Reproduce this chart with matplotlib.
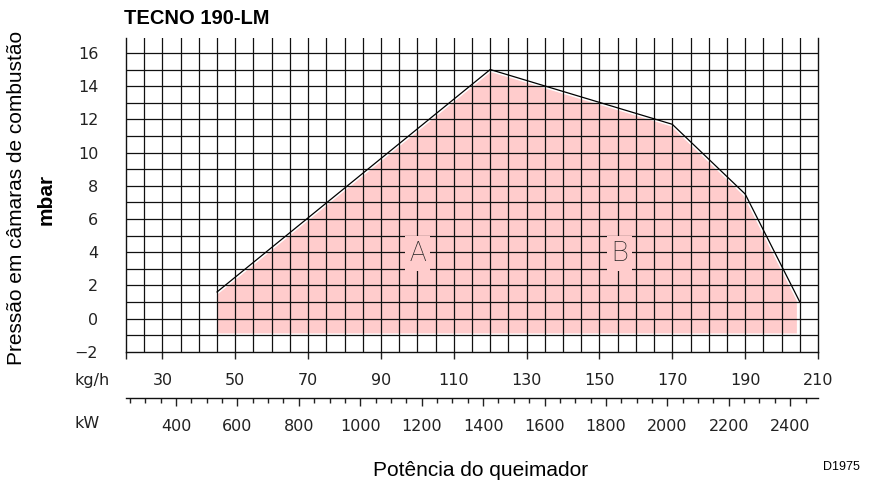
import matplotlib
matplotlib.use("Agg")
import matplotlib.pyplot as plt
import numpy as np

# ---- data ----
line_kgh = [45, 120, 170, 190, 205]
line_mbar = [1.6, 15.0, 11.7, 7.5, 1.0]
fill_kgh = [45, 45, 120, 170, 190, 204.2, 204.2]
fill_mbar = [-0.9, 1.6, 15.0, 11.7, 7.5, 1.35, -0.9]
region_labels = ["A", "B"]
region_x = [100, 155.5]
region_y = [3.45, 3.45]
kgh_ticks = [20, 30, 50, 70, 90, 110, 130, 150, 170, 190, 210]
kgh_ticklabels = ["", "30", "50", "70", "90", "110", "130", "150", "170", "190", "210"]
y_ticks = [-2, 0, 2, 4, 6, 8, 10, 12, 14, 16]
kw_major = [400, 600, 800, 1000, 1200, 1400, 1600, 1800, 2000, 2200, 2400]
kw_minor = list(range(250, 2500, 50))
KW_PER_KGH = 11.86

plt.rcParams["font.family"] = ["DejaVu Sans"]

W, H = 874, 488
fig = plt.figure(figsize=(W / 100, H / 100), dpi=100)
L, R, B, T = 126, 818, 351.7, 38
ax = fig.add_axes([L / W, 1 - B / H, (R - L) / W, (B - T) / H])
ax.set_xlim(20, 210)
ax.set_ylim(-2, 16.9)

# fill
ax.fill(fill_kgh, fill_mbar, color="#ffcccc", zorder=1, lw=0)
# white halo + black line
ax.plot(line_kgh, line_mbar, color="white", lw=3.2, zorder=1.2)
ax.plot(line_kgh, line_mbar, color="black", lw=0.9, zorder=2.5)

# grid (every 5 kg/h, every 1 mbar)
for gx in np.arange(25, 210, 5):
    ax.axvline(gx, color="#111111", lw=0.9, zorder=1.5)
for gy in np.arange(-1, 17, 1):
    ax.axhline(gy, color="#111111", lw=0.9, zorder=1.5)

ax.set_xticks(kgh_ticks)
ax.set_xticklabels(kgh_ticklabels)
ax.set_yticks(y_ticks)
ax.set_yticklabels([f"{v}".replace("-", "\u2212") for v in y_ticks])
ax.tick_params(axis="x", which="major", length=5, width=1, direction="out",
               pad=10, labelsize=11.5, colors="#222222")
ax.tick_params(axis="y", which="major", length=0, pad=20, labelsize=11.5,
               colors="#222222")

for s in ["left", "right", "bottom"]:
    ax.spines[s].set_linewidth(1.0)
    ax.spines[s].set_color("#111111")
ax.spines["top"].set_visible(False)

# region labels
for lab, x, y in zip(region_labels, region_x, region_y):
    ax.text(x, y, lab, ha="center", va="baseline", fontsize=20,
            family="Roboto", fontweight="light", color="#222222", zorder=4,
            bbox=dict(boxstyle="square,pad=0.15", fc="#ffcccc", ec="none"))

# secondary kW axis
sec = ax.secondary_xaxis(-(398.3 - B) / (B - T),
                         functions=(lambda x: x * KW_PER_KGH,
                                    lambda x: x / KW_PER_KGH))
sec.set_xticks(kw_major)
sec.set_xticks(kw_minor, minor=True)
sec.set_xticklabels([str(v) for v in kw_major])
sec.tick_params(which="major", length=6, width=1, pad=9, labelsize=11.5,
                colors="#222222")
sec.tick_params(which="minor", length=3.5, width=1, colors="#222222")
sec.spines["bottom"].set_linewidth(1.0)
sec.spines["bottom"].set_color("#111111")

# texts
def ftext(px, py, s, **kw):
    fig.text(px / W, 1 - py / H, s, **kw)

ftext(124, 18, "TECNO 190-LM", fontsize=14.5, fontweight="bold",
      family="Liberation Sans", ha="left", va="center")
ftext(17, 198, "Pressão em câmaras de combustão", fontsize=15,
      family="Liberation Sans", rotation=90, ha="center", va="center")
ftext(46, 199, "mbar", fontsize=15, fontweight="bold",
      family="Liberation Sans", rotation=90, ha="center", va="center")
ftext(74, 380, "kg/h", fontsize=11.5, ha="left", va="center", color="#222222")
ftext(74, 424, "kW", fontsize=11.5, ha="left", va="center", color="#222222")
ftext(481, 470, "Potência do queimador", fontsize=15,
      family="Liberation Sans", ha="center", va="center")
ftext(860, 467, "D1975", fontsize=9, family="Liberation Sans",
      ha="right", va="center")

fig.savefig("out.png", dpi=100)
